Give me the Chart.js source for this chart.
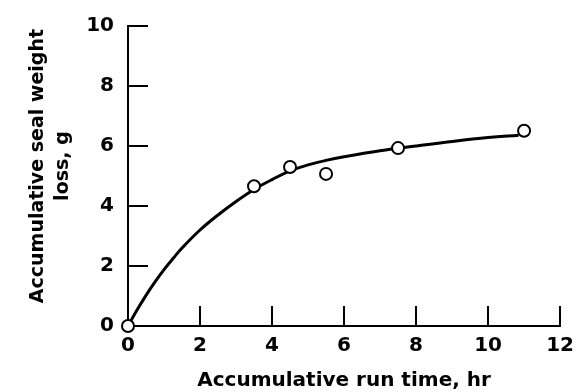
<!DOCTYPE html>
<html>
<head>
<meta charset="utf-8">
<script src="https://cdn.jsdelivr.net/npm/chart.js@4"></script>
<style>
  html, body { margin: 0; padding: 0; background: #fff; }
  #wrap { width: 582px; height: 392px; }
</style>
</head>
<body>
<div id="wrap"><canvas id="lossChart" width="582" height="392"></canvas></div>
<script>
// measured points
const runTime = [0, 3.5, 4.5, 5.5, 7.5, 11];
const weightLoss = [0, 4.66, 5.3, 5.07, 5.93, 6.51];

// fitted curve
const curveTime = [0, 0.25, 0.5, 0.75, 1, 1.25, 1.5, 2, 2.5, 3, 3.5, 4, 4.5, 5, 5.5, 6, 7, 8, 9, 10, 10.85];
const curveLoss = [0, 0.53, 1.02, 1.47, 1.88, 2.25, 2.6, 3.2, 3.7, 4.15, 4.55, 4.88, 5.17, 5.37, 5.52, 5.64, 5.84, 6.0, 6.15, 6.28, 6.36];

const xTicks = [0, 2, 4, 6, 8, 10, 12];
const yTicks = [0, 2, 4, 6, 8, 10];

const FONT = "'DejaVu Sans', sans-serif";

// ticks point inward, so draw them ourselves from the scales
const innerTicks = {
  id: "innerTicks",
  afterDatasetsDraw(chart) {
    const { ctx, chartArea, scales } = chart;
    const len = 20;
    ctx.save();
    ctx.strokeStyle = "#000";
    ctx.lineWidth = 2;
    ctx.beginPath();
    xTicks.slice(1).forEach((v) => {
      const px = Math.round(scales.x.getPixelForValue(v));
      ctx.moveTo(px, chartArea.bottom);
      ctx.lineTo(px, chartArea.bottom - len);
    });
    yTicks.slice(1).forEach((v) => {
      const py = Math.round(scales.y.getPixelForValue(v));
      ctx.moveTo(chartArea.left, py);
      ctx.lineTo(chartArea.left + len, py);
    });
    ctx.stroke();
    ctx.restore();
  },
};

new Chart(document.getElementById("lossChart"), {
  type: "scatter",
  data: {
    datasets: [
      {
        data: runTime.map((x, i) => ({ x, y: weightLoss[i] })),
        pointRadius: 6,
        pointBackgroundColor: "#fff",
        pointBorderColor: "#000",
        pointBorderWidth: 2,
        showLine: false,
        clip: false,
        order: 0,
      },
      {
        data: curveTime.map((x, i) => ({ x, y: curveLoss[i] })),
        showLine: true,
        pointRadius: 0,
        borderColor: "#000",
        borderWidth: 3,
        tension: 0.4,
        clip: false,
        order: 1,
      },
    ],
  },
  plugins: [innerTicks],
  options: {
    responsive: false,
    animation: false,
    layout: { padding: { left: 0, right: 18, top: 20, bottom: 0 } },
    plugins: { legend: { display: false }, tooltip: { enabled: false } },
    scales: {
      x: {
        type: "linear",
        min: 0,
        max: 12,
        afterFit: (s) => { s.height = 66; },
        afterBuildTicks: (s) => { s.ticks = xTicks.map((v) => ({ value: v })); },
        grid: { display: false, drawTicks: false },
        border: { display: true, color: "#000", width: 2 },
        ticks: { color: "#000", padding: 8, font: { family: FONT, size: 20, weight: "bold" } },
        title: {
          display: true,
          text: "Accumulative run time, hr",
          color: "#000",
          padding: { top: 0, bottom: 0 },
          font: { family: FONT, size: 20, weight: "bold", lineHeight: 1.1 },
        },
      },
      y: {
        type: "linear",
        min: 0,
        max: 10,
        afterFit: (s) => { s.width = 128; },
        afterBuildTicks: (s) => { s.ticks = yTicks.map((v) => ({ value: v })); },
        grid: { display: false, drawTicks: false },
        border: { display: true, color: "#000", width: 2 },
        ticks: { color: "#000", padding: 14, font: { family: FONT, size: 20, weight: "bold" } },
        title: {
          display: true,
          // leading spaces nudge the centred title a little upward
          text: ["   Accumulative seal weight", "   loss, g"],
          color: "#000",
          padding: { top: 26, bottom: 0 },
          font: { family: FONT, size: 19, weight: "bold", lineHeight: 1.3 },
        },
      },
    },
  },
});
</script>
</body>
</html>
